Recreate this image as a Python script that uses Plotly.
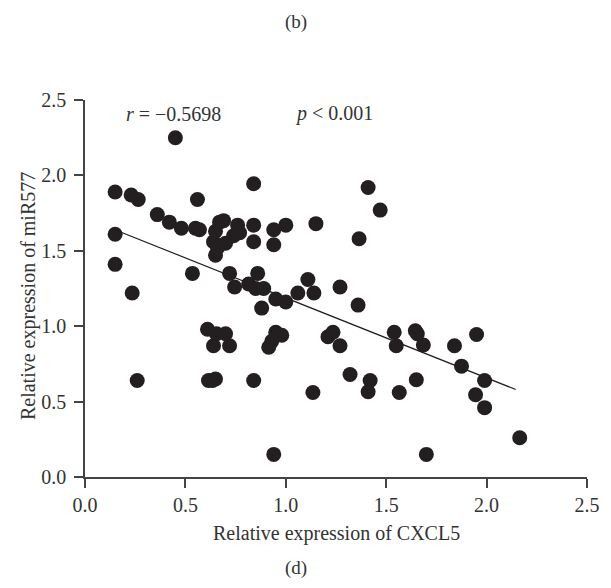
import plotly.graph_objects as go

########################
# DATA
########################

# Relative expression of CXCL5 (x) and miR577 (y) for each sample
CXCL5 = [
    0.15, 0.23, 0.265, 0.15, 0.15, 0.235, 0.26, 0.36, 0.42, 0.45,
    0.48, 0.55, 0.57, 0.56, 0.535, 0.61, 0.655, 0.70, 0.64, 0.72,
    0.615, 0.635, 0.65, 0.84,
    0.64, 0.65, 0.65, 0.67, 0.69, 0.70, 0.66, 0.74, 0.76, 0.77,
    0.84, 0.84, 0.94, 1.00, 0.94,
    0.72, 0.745, 0.86, 0.815, 0.85, 0.89, 0.95, 1.00, 1.06, 0.88,
    1.11, 1.14, 1.27, 1.36, 1.15, 1.41, 1.47, 1.365, 0.84,
    0.95, 0.98, 0.93, 0.915, 0.94, 1.135, 1.21, 1.235, 1.27, 1.32,
    1.42, 1.41, 1.54, 1.55, 1.565, 1.645, 1.655, 1.685, 1.65, 1.70,
    1.84, 1.95, 1.875, 1.99, 1.945, 1.99, 2.165,
]
MIR577 = [
    1.89, 1.87, 1.84, 1.61, 1.41, 1.22, 0.64, 1.74, 1.69, 2.25,
    1.65, 1.65, 1.64, 1.84, 1.35, 0.98, 0.95, 0.95, 0.87, 0.87,
    0.64, 0.64, 0.65, 0.64,
    1.56, 1.63, 1.47, 1.69, 1.70, 1.55, 1.52, 1.60, 1.67, 1.62,
    1.67, 1.56, 1.64, 1.67, 1.54,
    1.35, 1.26, 1.35, 1.28, 1.25, 1.25, 1.18, 1.16, 1.22, 1.12,
    1.31, 1.22, 1.26, 1.14, 1.68, 1.92, 1.77, 1.58, 1.945,
    0.96, 0.94, 0.90, 0.86, 0.15, 0.56, 0.93, 0.96, 0.87, 0.68,
    0.64, 0.565, 0.96, 0.87, 0.56, 0.97, 0.95, 0.875, 0.645, 0.15,
    0.87, 0.945, 0.735, 0.64, 0.545, 0.46, 0.26,
]

# Endpoints of the drawn regression line
FIT_X = [0.155, 2.145]
FIT_Y = [1.636, 0.58]

TICKS = [0.0, 0.5, 1.0, 1.5, 2.0, 2.5]
TICK_TEXT = ["0.0", "0.5", "1.0", "1.5", "2.0", "2.5"]

FONT = "Liberation Serif, Times New Roman, serif"
INK = "#231f20"
TEXT_SIZE = 20

fig = go.Figure()

fig.add_trace(go.Scatter(
    x=CXCL5, y=MIR577, mode="markers",
    marker=dict(size=15, color=INK, line=dict(width=0)),
    showlegend=False,
))

fig.add_trace(go.Scatter(
    x=FIT_X, y=FIT_Y, mode="lines",
    line=dict(color=INK, width=1.2),
    showlegend=False,
))

axis_style = dict(
    range=[0, 2.5], tickvals=TICKS, ticktext=TICK_TEXT,
    showgrid=False, zeroline=False, showline=True,
    linecolor="#444", linewidth=1.5,
    ticks="outside", ticklen=9, tickwidth=1.5, tickcolor="#444",
    tickfont=dict(family=FONT, size=TEXT_SIZE, color="#333"),
)
fig.update_xaxes(**axis_style)
fig.update_yaxes(**axis_style, ticklabelstandoff=4)

annotations = [
    dict(text="<i>r</i> = \u22120.5698", x=0.44, y=2.41, xref="x", yref="y",
         showarrow=False, font=dict(size=TEXT_SIZE)),
    dict(text="<i>p</i> < 0.001", x=1.24, y=2.41, xref="x", yref="y",
         showarrow=False, font=dict(size=TEXT_SIZE)),
    dict(text="Relative expression of CXCL5", x=0.5, y=0, xref="paper", yref="paper",
         yanchor="middle", yshift=-56, showarrow=False, font=dict(size=TEXT_SIZE)),
    dict(text="Relative expression of miR577", x=0, y=0.48, xref="paper", yref="paper",
         xanchor="center", yanchor="middle", xshift=-57, textangle=-90,
         showarrow=False, font=dict(size=TEXT_SIZE)),
    dict(text="(b)", x=0.42, y=1, xref="paper", yref="paper",
         yanchor="top", yshift=91, showarrow=False, font=dict(size=19)),
    dict(text="(d)", x=0.42, y=0, xref="paper", yref="paper",
         yanchor="middle", yshift=-91, showarrow=False, font=dict(size=19)),
]

# the page body adds an 8px offset, so margins are trimmed to compensate
fig.update_layout(
    width=611, height=588,
    margin=dict(l=77, r=32, t=92, b=119),
    plot_bgcolor="white", paper_bgcolor="white",
    font=dict(family=FONT, color="#333"),
    annotations=annotations,
)

fig.write_html("out.html")
